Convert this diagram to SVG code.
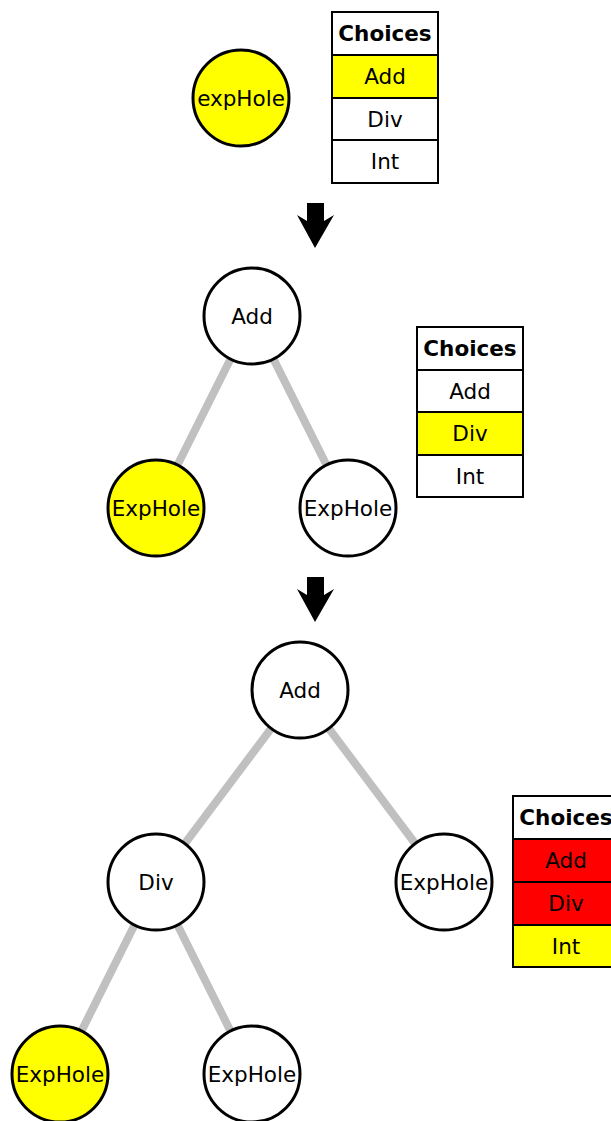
<svg xmlns="http://www.w3.org/2000/svg" width="611" height="1121" viewBox="0 0 611 1121">
<defs>
<style>
text{font-family:"DejaVu Sans","Liberation Sans",sans-serif;font-size:21.5px;text-anchor:middle;fill:#000}
.hd{font-weight:bold}
.nd{stroke:#000;stroke-width:3}
.w{fill:#fff}
.y{fill:#ffff00}
.r{fill:#ff0000}
.cell{stroke:#000;stroke-width:2}
.edge{stroke:#c0c0c0;stroke-width:8;fill:none}
.arrow{fill:#000}
</style>
<polygon id="arr" points="307,0 324,0 324,18 334,12 315,45 297,12 307,18"/>
</defs>
<rect width="611" height="1121" fill="#fff"/>

<g id="connectors">
<line class="edge" x1="252" y1="316" x2="156" y2="508"/>
<line class="edge" x1="252" y1="316" x2="348" y2="508"/>
<line class="edge" x1="300" y1="690" x2="156" y2="882"/>
<line class="edge" x1="300" y1="690" x2="444" y2="882"/>
<line class="edge" x1="156" y1="882" x2="60" y2="1074"/>
<line class="edge" x1="156" y1="882" x2="252" y2="1074"/>
</g>

<g id="arrow1" class="arrow"><use href="#arr" y="203"/></g>
<g id="arrow2" class="arrow"><use href="#arr" y="577"/></g>

<g id="n1"><circle class="nd y" cx="241" cy="98" r="48"/><text x="241" y="106">expHole</text></g>
<g id="choices1">
<rect class="cell w" x="332" y="12" width="106" height="43"/><text class="hd" x="385" y="41">Choices</text>
<rect class="cell y" x="332" y="55" width="106" height="43"/><text x="385" y="84">Add</text>
<rect class="cell w" x="332" y="98" width="106" height="42"/><text x="385" y="127">Div</text>
<rect class="cell w" x="332" y="140" width="106" height="43"/><text x="385" y="169">Int</text>
</g>

<g id="n2"><circle class="nd w" cx="252" cy="316" r="48"/><text x="252" y="324">Add</text></g>
<g id="n3"><circle class="nd y" cx="156" cy="508" r="48"/><text x="156" y="516">ExpHole</text></g>
<g id="n4"><circle class="nd w" cx="348" cy="508" r="48"/><text x="348" y="516">ExpHole</text></g>
<g id="choices2">
<rect class="cell w" x="417" y="327" width="106" height="43"/><text class="hd" x="470" y="356">Choices</text>
<rect class="cell w" x="417" y="370" width="106" height="42"/><text x="470" y="399">Add</text>
<rect class="cell y" x="417" y="412" width="106" height="43"/><text x="470" y="441">Div</text>
<rect class="cell w" x="417" y="455" width="106" height="42"/><text x="470" y="484">Int</text>
</g>

<g id="n5"><circle class="nd w" cx="300" cy="690" r="48"/><text x="300" y="698">Add</text></g>
<g id="n6"><circle class="nd w" cx="156" cy="882" r="48"/><text x="156" y="890">Div</text></g>
<g id="n7"><circle class="nd w" cx="444" cy="882" r="48"/><text x="444" y="890">ExpHole</text></g>
<g id="n8"><circle class="nd y" cx="60" cy="1074" r="48"/><text x="60" y="1082">ExpHole</text></g>
<g id="n9"><circle class="nd w" cx="252" cy="1074" r="48"/><text x="252" y="1082">ExpHole</text></g>
<g id="choices3">
<rect class="cell w" x="513" y="796" width="106" height="43"/><text class="hd" x="566" y="825">Choices</text>
<rect class="cell r" x="513" y="839" width="106" height="43"/><text x="566" y="868">Add</text>
<rect class="cell r" x="513" y="882" width="106" height="43"/><text x="566" y="911">Div</text>
<rect class="cell y" x="513" y="925" width="106" height="42"/><text x="566" y="954">Int</text>
</g>
</svg>
